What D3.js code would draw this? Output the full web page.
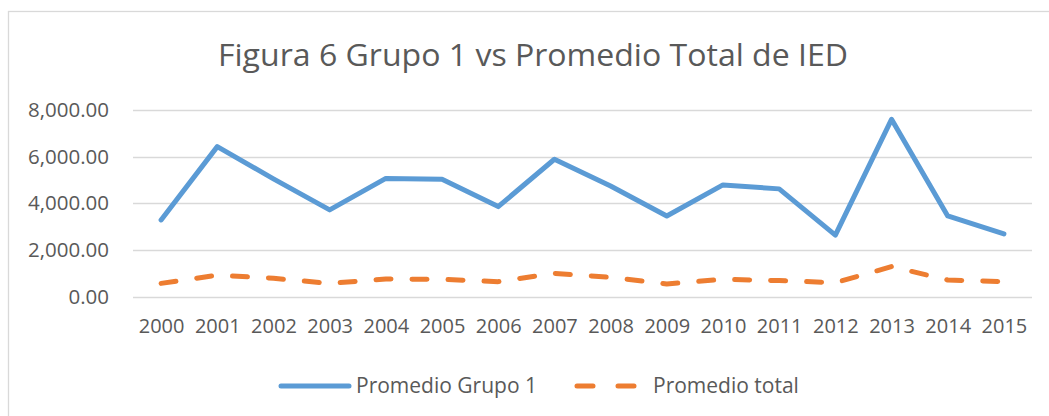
<!DOCTYPE html>
<html>
<head>
<meta charset="utf-8">
<script src="https://cdn.jsdelivr.net/npm/d3@7"></script>
<style>
  body { margin: 0; background: #fff; }
  text { font-family: "Open Sans", "Noto Sans", sans-serif; fill: #595959; }
</style>
</head>
<body>
<div id="chart"></div>
<script>
// data
const years = ["2000", "2001", "2002", "2003", "2004", "2005", "2006", "2007",
               "2008", "2009", "2010", "2011", "2012", "2013", "2014", "2015"];
const grupo1 = [3290, 6430, 5050, 3720, 5070, 5030, 3860, 5890,
                4740, 3460, 4790, 4620, 2640, 7600, 3460, 2690];
const total = [570, 920, 790, 570, 760, 745, 645, 1000,
               830, 545, 745, 690, 600, 1290, 715, 645];
const yTicks = [0, 2000, 4000, 6000, 8000];
const seriesNames = ["Promedio Grupo 1", "Promedio total"];

const W = 1049, H = 416;
const blue = "#5B9BD5", orange = "#ED7D31";

const svg = d3.select("#chart").append("svg")
    .attr("width", W)
    .attr("height", H);

// chart frame (right and bottom edges fall outside the picture)
svg.append("rect")
    .attr("x", 8.5).attr("y", 11.5)
    .attr("width", 1060).attr("height", 430)
    .attr("fill", "#fff")
    .attr("stroke", "#D9D9D9")
    .attr("stroke-width", 1.3);

svg.append("text")
    .attr("x", 533).attr("y", 66)
    .attr("text-anchor", "middle")
    .attr("font-size", 31)
    .attr("textLength", 630)
    .attr("lengthAdjust", "spacingAndGlyphs")
    .text("Figura 6 Grupo 1 vs Promedio Total de IED");

const x = d3.scalePoint().domain(years).range([133, 1032]).padding(0.5);
const y = d3.scaleLinear().domain([0, 8000]).range([296.7, 110]);

// gridlines
svg.append("g")
    .selectAll("line")
    .data(yTicks)
    .join("line")
    .attr("x1", 133).attr("x2", 1032)
    .attr("y1", d => Math.round(y(d)) + 0.5)
    .attr("y2", d => Math.round(y(d)) + 0.5)
    .attr("stroke", "#D9D9D9")
    .attr("stroke-width", 1.3);

// y axis labels
const yAxis = svg.append("g")
    .attr("transform", "translate(133,0)")
    .call(d3.axisLeft(y).tickValues(yTicks).tickSize(0).tickPadding(24)
        .tickFormat(d3.format(",.2f")));
yAxis.select(".domain").remove();
yAxis.selectAll("text")
    .attr("font-size", 20.5)
    .attr("fill", "#595959");

// x axis labels
const xAxis = svg.append("g")
    .attr("transform", "translate(0,296.7)")
    .call(d3.axisBottom(x).tickSize(0).tickPadding(22));
xAxis.select(".domain").remove();
xAxis.selectAll("text")
    .attr("font-size", 20)
    .attr("fill", "#595959");

const line = d3.line()
    .x((d, i) => x(years[i]))
    .y(d => y(d));

svg.append("path")
    .datum(total)
    .attr("d", line)
    .attr("fill", "none")
    .attr("stroke", orange)
    .attr("stroke-width", 5)
    .attr("stroke-linecap", "round")
    .attr("stroke-linejoin", "round")
    .attr("stroke-dasharray", "15,21");

svg.append("path")
    .datum(grupo1)
    .attr("d", line)
    .attr("fill", "none")
    .attr("stroke", blue)
    .attr("stroke-width", 5)
    .attr("stroke-linecap", "round")
    .attr("stroke-linejoin", "round");

// legend
const legend = svg.append("g").attr("transform", "translate(0,386)");

legend.append("line")
    .attr("x1", 281).attr("x2", 349)
    .attr("stroke", blue).attr("stroke-width", 5)
    .attr("stroke-linecap", "round");
legend.append("text")
    .attr("x", 356).attr("y", 7)
    .attr("font-size", 21)
    .text(seriesNames[0]);

legend.append("line")
    .attr("x1", 577).attr("x2", 638)
    .attr("stroke", orange).attr("stroke-width", 5)
    .attr("stroke-linecap", "round")
    .attr("stroke-dasharray", "16,25");
legend.append("text")
    .attr("x", 653).attr("y", 7)
    .attr("font-size", 21)
    .text(seriesNames[1]);
</script>
</body>
</html>
